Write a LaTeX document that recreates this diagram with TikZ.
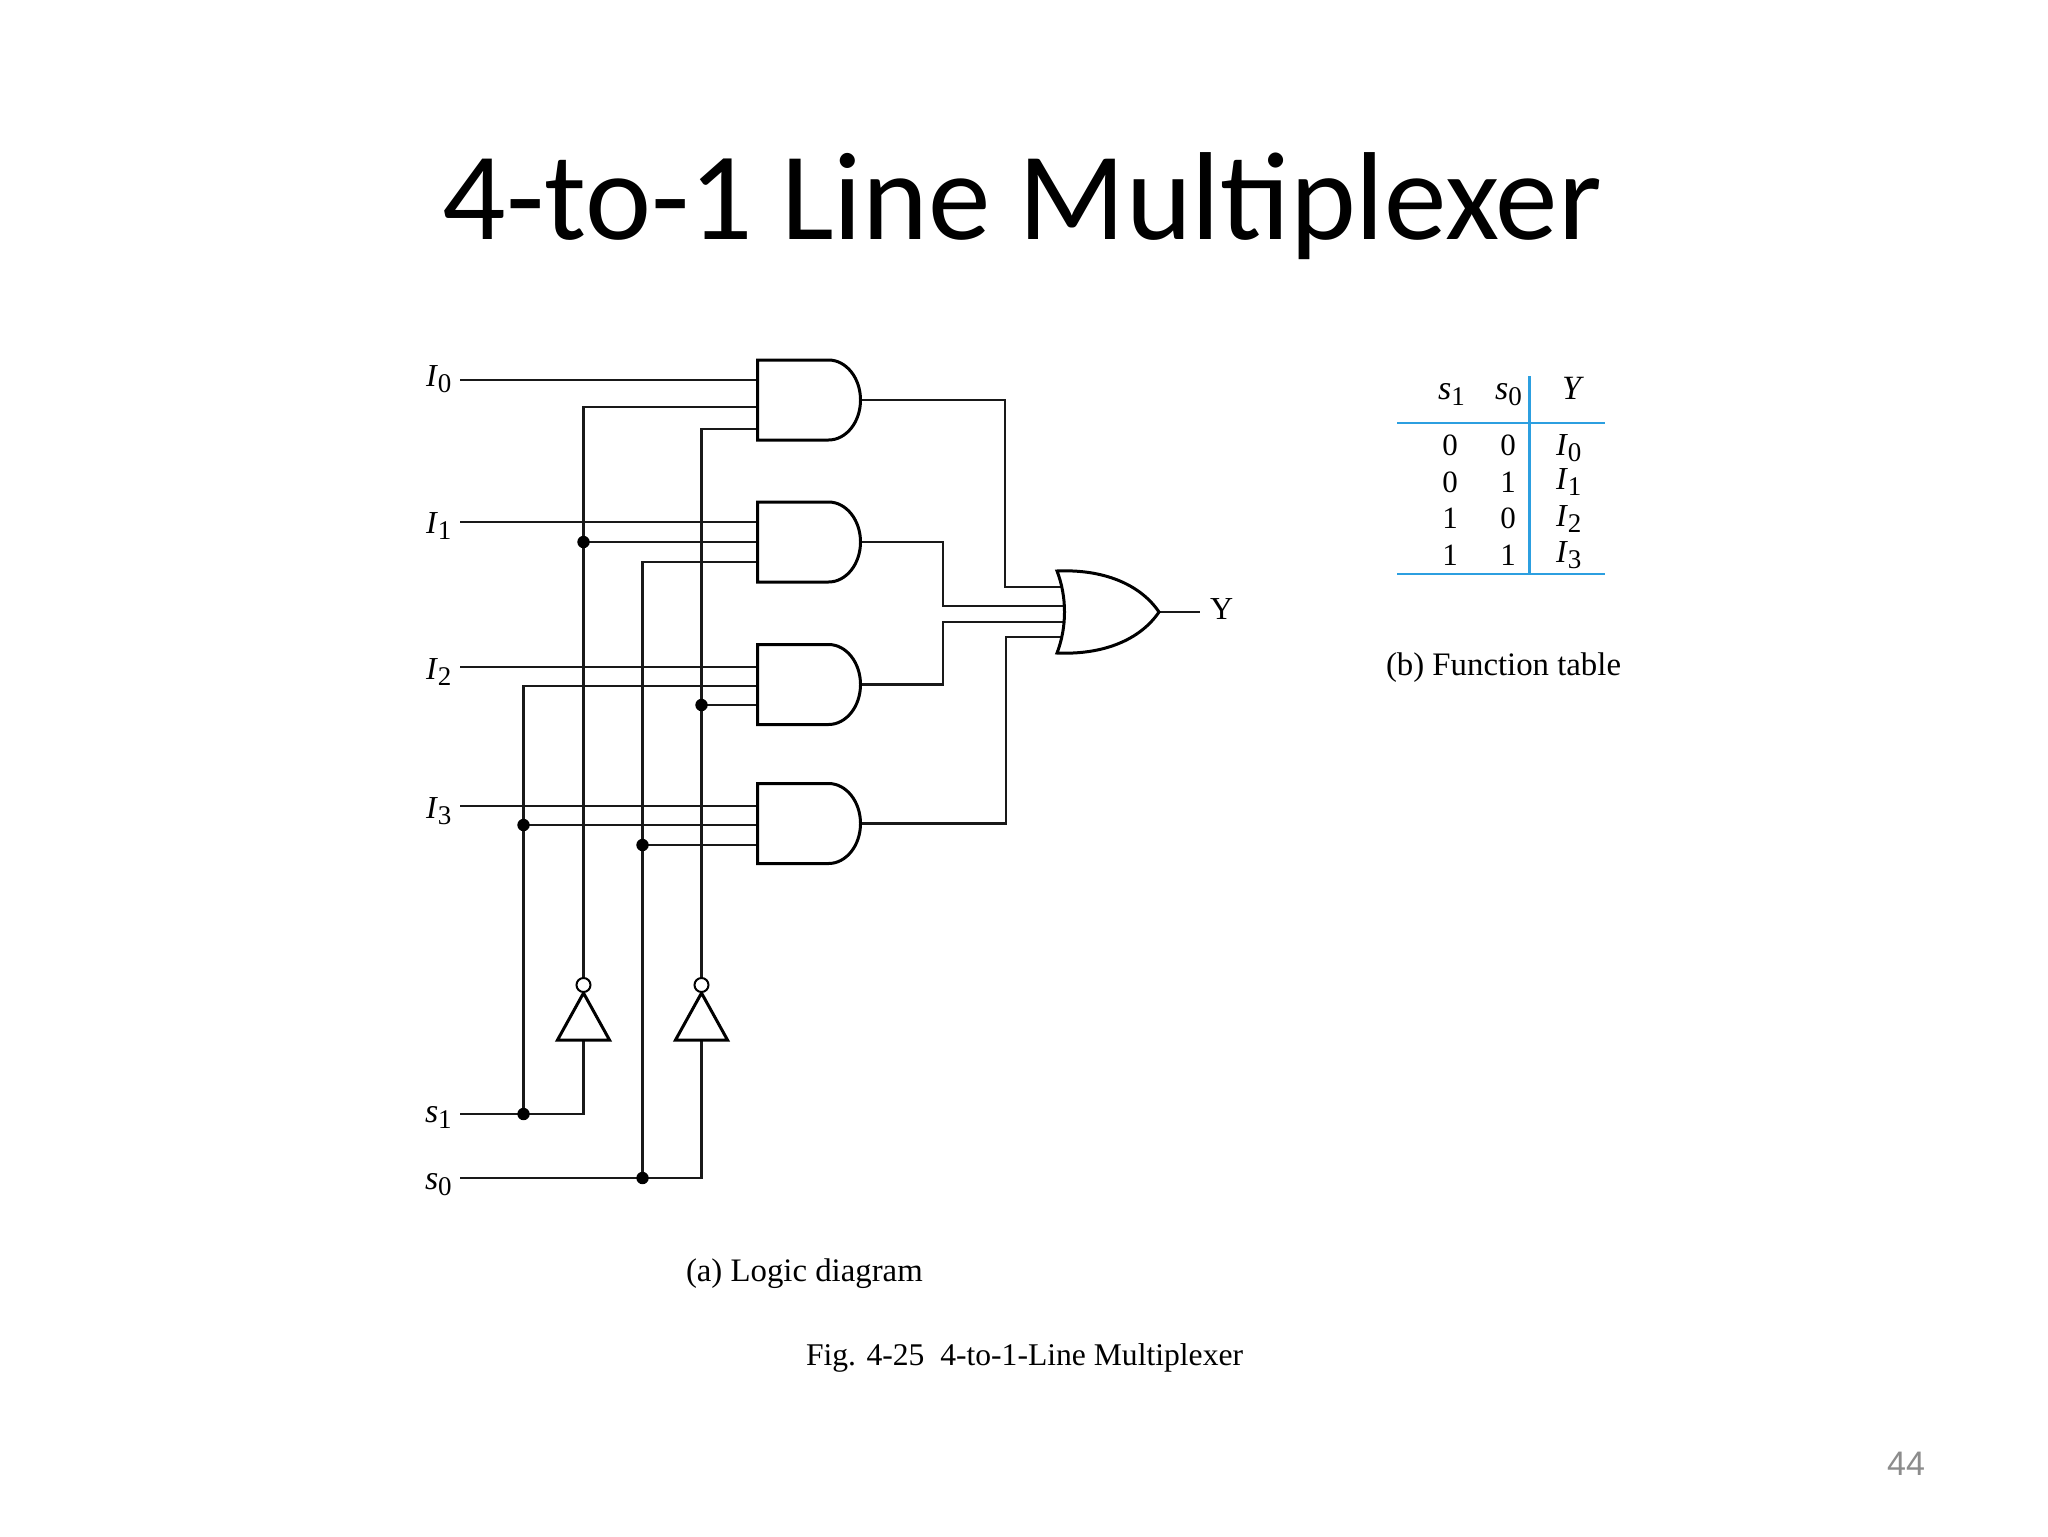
\documentclass[tikz,border=0pt]{standalone}
\usepackage{fontspec}
\setmainfont{Liberation Serif}
\newfontfamily\titlefont{Carlito}
\newfontfamily\pagefont{Liberation Sans}
\definecolor{rulecol}{HTML}{2C9FE0}
\definecolor{pagecol}{HTML}{8C8C8C}
\newcommand{\subl}[2]{\textit{#1}\raisebox{-3.2pt}{\fontsize{13.5}{13.5}\selectfont #2}}
\tikzset{
  wire/.style={line width=1.05pt,line join=miter,draw=black!90},
  gateline/.style={line width=1.5pt,line join=miter,draw=black,fill=white},
  andbox/.style={inner sep=0,outer sep=0,minimum width=51.5pt,minimum height=40pt},
  orbox/.style={inner sep=0,outer sep=0,minimum width=51pt,minimum height=41pt},
  invbox/.style={inner sep=0,outer sep=0,minimum width=26pt,minimum height=23.5pt},
  bubble/.style={circle,draw=black,line width=1pt,fill=white,inner sep=0,outer sep=0,minimum size=7pt},
  jdot/.style={circle,fill=black,inner sep=0,outer sep=0,minimum size=6.2pt},
  lbl/.style={inner sep=0,outer sep=0,anchor=base west,font=\fontsize{16}{16}\selectfont},
  slbl/.style={lbl,font=\fontsize{17}{17}\selectfont},
  captxt/.style={inner sep=0,outer sep=0,anchor=base west,font=\fontsize{16.4}{16.4}\selectfont},
  figtxt/.style={captxt,font=\fontsize{15.8}{15.8}\selectfont},
  tnum/.style={inner sep=0,outer sep=0,anchor=base,font=\fontsize{15.5}{15.5}\selectfont},
  trule/.style={draw=rulecol,line width=1.1pt},
}
\newcommand{\drawand}[1]{%
  \begin{scope}[shift={(#1.center)}]
    \draw[gateline] (-51.5,-40) -- (19.5,-40) .. controls (37.2,-40) and (51.5,-22) .. (51.5,0)
      .. controls (51.5,22) and (37.2,40) .. (19.5,40) -- (-51.5,40) -- cycle;
  \end{scope}}
\newcommand{\drawinv}[1]{%
  \begin{scope}[shift={(#1.center)}]
    \draw[gateline] (0,-23.5) -- (26,23.5) -- (-26,23.5) -- cycle;
  \end{scope}}
\begin{document}
\begin{tikzpicture}[x=0.5pt,y=-0.5pt]
\path[use as bounding box,fill=white] (0,0) rectangle (2048,1536);

% title and page number
\node[inner sep=0,outer sep=0,anchor=base,font=\titlefont\fontsize{62.6}{62.6}\selectfont] (title) at (1022.5,239) {4-to-1 Line Multiplexer};
\node[inner sep=0,outer sep=0,anchor=base east,text=pagecol,font=\pagefont\fontsize{17}{17}\selectfont] (page) at (1925,1475) {44};

% named points
\coordinate (i0s) at (460,380); \coordinate (g0a) at (757,380);
\coordinate (g0b) at (757,407); \coordinate (g0c) at (757,429);
\coordinate (i1s) at (460,522); \coordinate (g1a) at (757,522);
\coordinate (g1b) at (757,542); \coordinate (g1c) at (757,562);
\coordinate (i2s) at (460,667); \coordinate (g2a) at (757,667);
\coordinate (g2b) at (757,686); \coordinate (g2c) at (757,705);
\coordinate (i3s) at (460,806); \coordinate (g3a) at (757,806);
\coordinate (g3b) at (757,825); \coordinate (g3c) at (757,845);
\coordinate (s1s) at (460,1114); \coordinate (s0s) at (460,1178);
\coordinate (k0) at (1005,587); \coordinate (or0) at (1065,587);
\coordinate (k1) at (943,606);  \coordinate (or1) at (1068,606);
\coordinate (k2) at (943,622);  \coordinate (or2) at (1068,622);
\coordinate (k3) at (1006,637); \coordinate (or3) at (1065,637);
\coordinate (yend) at (1200,612);

% boxes for the gates (outlines drawn after the wires)
\node[andbox] (g0) at (809,400) {};
\node[andbox] (g1) at (809,542) {};
\node[andbox] (g2) at (809,684.5) {};
\node[andbox] (g3) at (809,823.5) {};
\node[orbox] (org) at (1108,612) {};
\node[invbox] (inv1) at (583.5,1016.5) {};
\node[invbox] (inv2) at (701.5,1016.5) {};
\coordinate (bub1n) at (583.5,978);
\coordinate (bub2n) at (701.5,978);

% junctions
\coordinate (d1) at (583.5,542);
\coordinate (d2) at (701.5,705);
\coordinate (d3) at (523.5,825);
\coordinate (d4) at (642.5,845);
\coordinate (d5) at (523.5,1114);
\coordinate (d6) at (642.5,1178);

% wires
\draw[wire] (i0s) -- (g0a);
\draw[wire] (i1s) -- (g1a);
\draw[wire] (i2s) -- (g2a);
\draw[wire] (i3s) -- (g3a);
\draw[wire] (g0b) -| (bub1n);
\draw[wire] (g0c) -| (bub2n);
\draw[wire] (d1) -- (g1b);
\draw[wire] (g1c) -| (d6);
\draw[wire] (g2b) -| (d5);
\draw[wire] (d2) -- (g2c);
\draw[wire] (d3) -- (g3b);
\draw[wire] (d4) -- (g3c);
\draw[wire] (s1s) -| (inv1.south);
\draw[wire] (s0s) -| (inv2.south);
\draw[wire] (g0.east) -| (k0) -- (or0);
\draw[wire] (g1.east) -| (k1) -- (or1);
\draw[wire] (g2.east) -| (k2) -- (or2);
\draw[wire] (g3.east) -| (k3) -- (or3);
\draw[wire] (org.east) -- (yend);

% junction dots on the wires
\node[jdot] (j1) at (d1) {};
\node[jdot] (j2) at (d2) {};
\node[jdot] (j3) at (d3) {};
\node[jdot] (j4) at (d4) {};
\node[jdot] (j5) at (d5) {};
\node[jdot] (j6) at (d6) {};

% gates on top of the wires
\drawand{g0}
\drawand{g1}
\drawand{g2}
\drawand{g3}
\begin{scope}[shift={(org.center)}]
  \draw[gateline] (-51,-41) .. controls (-5,-43) and (32,-28) .. (51,0)
    .. controls (32,28) and (-5,43) .. (-51,41)
    .. controls (-41,15) and (-41,-15) .. (-51,-41) -- cycle;
\end{scope}
\drawinv{inv1}
\drawinv{inv2}
\node[bubble] (bub1) at (583.5,985) {};
\node[bubble] (bub2) at (701.5,985) {};

% labels
\node[lbl] (li0) at (426,386) {\subl{I}{0}};
\node[lbl] (li1) at (426,533) {\subl{I}{1}};
\node[lbl] (li2) at (426,679) {\subl{I}{2}};
\node[lbl] (li3) at (426,818) {\subl{I}{3}};
\node[slbl] (ls1) at (425,1122) {\subl{s}{1}};
\node[slbl] (ls0) at (425,1189) {\subl{s}{0}};
\node[lbl,font=\fontsize{16}{16}\selectfont] (ly) at (1210,619) {Y};

% function table
\draw[trule] (1529.5,376) -- (1529.5,574);
\draw[trule] (1397,423) -- (1605,423);
\draw[trule] (1397,574) -- (1605,574);
\node[slbl] (ts1) at (1438,399) {\subl{s}{1}};
\node[slbl] (ts0) at (1495,399) {\subl{s}{0}};
\node[lbl,font=\fontsize{17}{17}\selectfont] (ty) at (1562,399) {\textit{Y}};
\node[tnum] (a1) at (1450,455) {0}; \node[tnum] (b1) at (1508,455) {0};
\node[tnum] (a2) at (1450,492) {0}; \node[tnum] (b2) at (1508,492) {1};
\node[tnum] (a3) at (1450,528) {1}; \node[tnum] (b3) at (1508,528) {0};
\node[tnum] (a4) at (1450,565) {1}; \node[tnum] (b4) at (1508,565) {1};
\node[lbl] (r1) at (1556,455) {\subl{I}{0}};
\node[lbl] (r2) at (1556,489) {\subl{I}{1}};
\node[lbl] (r3) at (1556,526) {\subl{I}{2}};
\node[lbl] (r4) at (1556,562) {\subl{I}{3}};

% captions
\node[captxt] (capb) at (1386,675) {(b) Function table};
\node[captxt] (capa) at (686,1281) {(a) Logic diagram};
\node[figtxt] (capf) at (806,1365) {Fig. 4-25\ \ 4-to-1-Line Multiplexer};
\end{tikzpicture}
\end{document}
